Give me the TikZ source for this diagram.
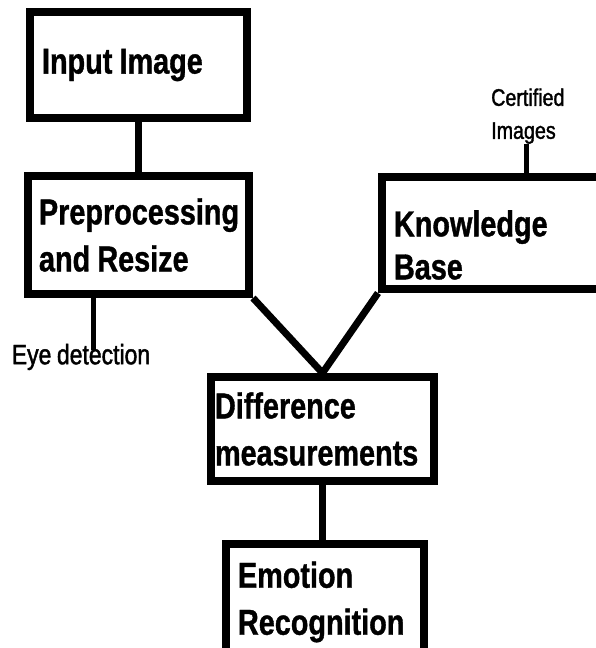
\documentclass[tikz,border=0pt]{standalone}
\usepackage{fontspec}
\newfontfamily\diafont[FakeStretch=0.8, FakeBold=1]{Liberation Sans}
\newfontfamily\labelfont[FakeStretch=0.82, FakeBold=1.5]{Liberation Sans}
\newcommand{\boxfont}{\diafont\bfseries\fontsize{36}{47}\selectfont}
\newcommand{\smallfont}{\labelfont\fontsize{24}{33}\selectfont}
\newcommand{\eyefont}{\labelfont\fontsize{28}{33}\selectfont}
\newcommand{\tightspace}{\spaceskip=0.2em\relax\xspaceskip=0.2em\relax}

\begin{document}
\begin{tikzpicture}
[x=1pt,y=-1pt,
block/.style ={rectangle, draw, line width=8pt, fill=white, align=left, inner xsep=12pt, inner ysep=0pt, font=\boxfont, execute at begin node=\tightspace},
label_text/.style ={rectangle, inner sep=0pt, align=left, font=\smallfont, execute at begin node=\tightspace},
line_inner/.style ={draw, line width=7pt},
line_tick/.style ={draw, line width=5pt}]

\useasboundingbox (0,0) rectangle (596,648);
\clip (0,0) rectangle (596,648);

%%Kaesten%%
\node[block, text width=193pt, minimum height=106pt] (input) at (138.5,65) {Input Image};
\node[block, text width=199pt, minimum height=118pt, inner xsep=11pt] (prep) at (138.5,235) {Preprocessing\\and Resize};
\node[block, text width=216pt, minimum height=112pt] (kb) at (502,233) {\raisebox{0pt}[50pt]{Knowledge}\\[-4pt]Base};
\node[block, text width=215pt, minimum height=104pt, inner xsep=4pt] (diff) at (322.5,429) {Difference\\measurements};
\node[block, text width=174pt, minimum height=116pt] (emo) at (325,602) {Emotion\\Recognition};

%%Beschriftungen%%
\node[label_text, font=\eyefont] (eye) at (81,357) {Eye detection};
\node[label_text, anchor=south west] (cert) at (491,144) {Certified\\Images};
\coordinate (eye_tick) at (93,350);
\coordinate (cert_tick) at (526,144);

%%Linien%%
\draw[line_inner] (input) -- (prep);
\draw[line_inner] (prep.south east) -- (diff.north);
\draw[line_inner] (kb.south west) -- (diff.north);
\draw[line_inner] (diff.south) -- (diff.south |- emo.north);
\draw[line_tick] (eye_tick) -- (eye_tick |- prep.south);
\draw[line_tick] (cert_tick) -- (cert_tick |- kb.north);

\end{tikzpicture}
\end{document}
